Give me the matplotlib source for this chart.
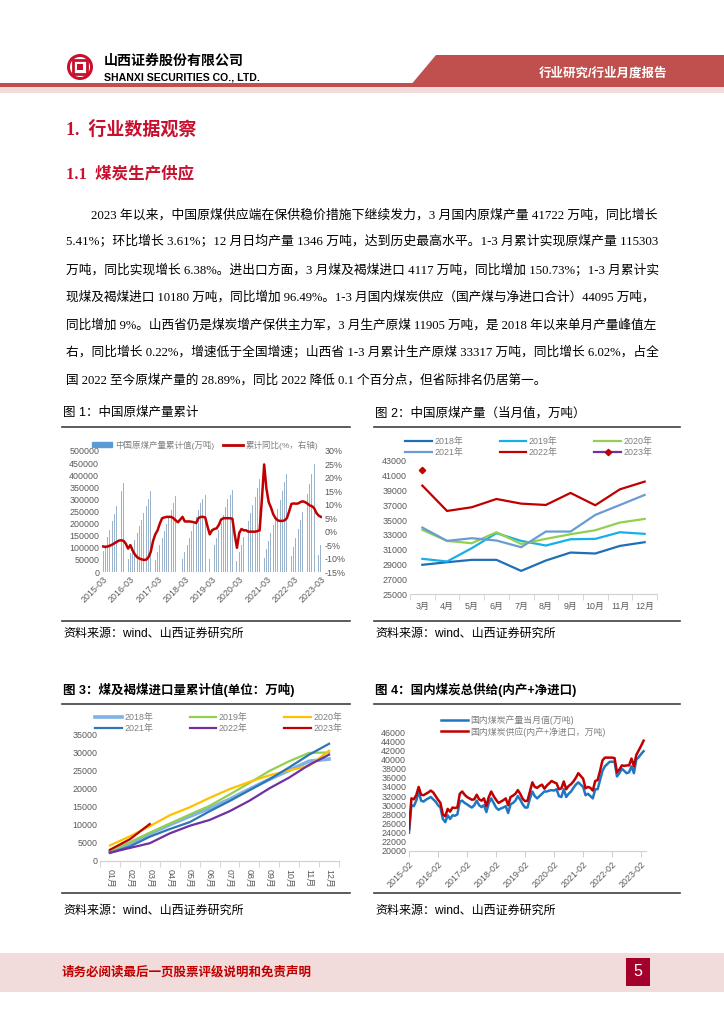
import numpy as np
import pandas as pd
import matplotlib
matplotlib.use('Agg')
from matplotlib import pyplot as plt
from matplotlib.patches import Patch, Polygon, Circle, Rectangle
from matplotlib.lines import Line2D

plt.rcParams['font.family'] = ['Liberation Sans', 'Noto Sans CJK SC']
SERIF = ['Liberation Serif', 'Noto Sans CJK SC']

# ---- chart 1 : cumulative raw coal output (万吨) and yoy (%) ----
nan = np.nan
cum_2015 = [85000, 113000, 145000, 175000, 210000, 240000, 272000, 303000, 335000, 368000]
cum_2016 = [nan, 52000, 78000, 104000, 133000, 163000, 190000, 216000, 245000, 273000, 303000, 334000]
cum_2017 = [nan, 50000, 82000, 110000, 140000, 168000, 197000, 226000, 255000, 284000, 312000, 341000]
cum_2018 = [nan, 52000, 84000, 112000, 141000, 170000, 199000, 228000, 257000, 286000, 300000, 318000]
cum_2019 = [nan, 55000, 82000, 110000, 141000, 172000, 203000, 236000, 268000, 302000, 320000, 338000]
cum_2020 = [nan, 45000, 83000, 112000, 145000, 181000, 212000, 244000, 276000, 311000, 346000, 384000]
cum_2021 = [nan, 58000, 94000, 128000, 162000, 195000, 229000, 262000, 298000, 335000, 370000, 407000]
cum_2022 = [nan, 65000, 103000, 140000, 178000, 215000, 250000, 288000, 323000, 362000, 405000, 445000]
cum_2023 = [nan, 70000, 113000]
cum_yoy = [-5.5, -5.7, -5.5, -5.2, -4.8, -4.3, -3.8, -3.3, -3.2, -3.4, -4.5, -6.3,
           -5.0, -7.0, -8.5, -9.5, -10.0, -10.3, -10.5, -10.4, -9.5, -7.5, -3.5, -1.0,
           0.5, 3.0, 5.0, 5.3, 5.5, 5.5, 5.5, 5.0, 4.2, 3.5, 4.5, 5.5,
           3.8, 3.8, 3.8, 3.7, 3.5, 3.2, 5.0, 5.5, 5.5, 5.3, 2.0, -1.0,
           0.5, 1.0, 1.2, 2.5, 4.5, 5.0, 5.0, 5.0, 5.0, 4.8, -1.0, -6.0,
           -0.5, 1.0, 0.5, 0.5, 0.0, 0.0, 0.0, 0.0, 0.2, 0.5, 12.0, 25.0,
           16.0, 11.0, 9.0, 6.5, 5.0, 4.2, 4.0, 4.0, 4.2, 5.0, 7.5, 10.3,
           10.5, 10.4, 10.5, 11.0, 11.3, 11.0, 10.5, 9.8, 9.5, 8.8, 7.0, 6.0,
           5.5]
months_1 = pd.period_range('2015-03', '2023-03', freq='M').strftime('%Y-%m')

# ---- chart 2 : monthly raw coal output by year (万吨) ----
m_labels = ['3月', '4月', '5月', '6月', '7月', '8月', '9月', '10月', '11月', '12月']
y2018 = [28950, 29300, 29620, 29620, 28130, 29530, 30610, 30480, 31510, 32010]
y2019 = [29760, 29400, 31200, 33230, 32190, 31560, 32410, 32460, 33360, 33140]
y2020 = [33680, 32190, 31870, 33360, 31780, 32460, 33090, 33630, 34670, 35160]
y2021 = [33990, 32190, 32550, 32240, 31330, 33450, 33450, 35700, 37050, 38410]
y2022 = [39670, 36240, 36740, 37860, 37230, 37050, 38680, 37010, 39170, 40210]
y2023 = [41722]

# ---- chart 3 : cumulative coal & lignite imports (万吨) ----
imp_labels = ['01月', '02月', '03月', '04月', '05月', '06月', '07月', '08月', '09月', '10月', '11月', '12月']
imp_2018 = [2600, 4800, 7500, 10000, 12300, 14500, 17000, 19800, 22500, 25000, 27500, 28100]
imp_2019 = [2800, 5200, 7800, 10300, 12800, 15200, 18300, 21500, 24800, 27500, 29800, 29900]
imp_2020 = [4300, 6800, 9600, 12600, 14800, 17400, 19800, 21800, 23600, 25000, 26200, 30400]
imp_2021 = [2200, 4000, 6700, 8800, 10700, 13700, 16500, 19500, 22500, 25800, 29300, 32300]
imp_2022 = [2300, 3600, 4900, 7600, 9700, 11300, 13700, 16600, 20000, 23000, 26500, 29300]
imp_2023 = [3100, 6000, 10200]

# ---- chart 4 : domestic output vs total supply (万吨) ----
months_4 = pd.period_range('2015-02', '2023-03', freq='M').strftime('%Y-%m')
output_m = [24000, 30000, 29800, 31000, 33000, 31000, 30800, 31200, 31500, 31800, 31300, 30800,
            30000, 29500, 27000, 26300, 27800, 27000, 27800, 27700, 28000, 30800, 31000, 30500,
            30200, 29800, 29500, 30000, 31000, 30000, 29600, 30000, 28500, 30500, 31500, 30500,
            29500, 29000, 29300, 29500, 29800, 28300, 30200, 30500, 31000, 32000, 31200, 30200,
            29500, 29500, 31500, 33000, 32000, 31500, 32000, 32500, 33000, 33000, 33200, 33300,
            33200, 33500, 32000, 31800, 33500, 31800, 32500, 33000, 33800, 34500, 35000, 34500,
            34000, 32200, 32500, 32000, 31500, 33500, 33500, 35500, 37500, 38500, 39000, 39500,
            39500, 39500, 36300, 37000, 38000, 37500, 37000, 37200, 38500, 37000, 40000, 40500,
            41200, 41800]
supply_m = [24800, 31500, 31300, 32200, 34000, 32300, 32200, 32500, 32800, 33200, 32800, 32000,
            31200, 30500, 28000, 27600, 29200, 28600, 29500, 29400, 29500, 32500, 33000, 32300,
            31800, 31500, 31200, 31300, 32300, 31300, 31000, 31500, 29800, 31800, 33000, 32000,
            31200, 30500, 30800, 31100, 31500, 30000, 31800, 32100, 32500, 33300, 32500, 31400,
            30900, 31000, 33000, 35000, 34000, 33800, 34200, 34500, 33600, 34300, 34800, 35300,
            35000, 34800, 33500, 33700, 35200, 33500, 34200, 34600, 35200, 36000, 37000, 36400,
            35800, 33700, 34000, 33800, 33200, 35300, 35500, 37500, 39800, 40400, 40400, 40400,
            40400, 40300, 37200, 37800, 38700, 38600, 38700, 38700, 40200, 38500, 41000, 42000,
            43000, 44100]

body_lines = [
    '2023 年以来，中国原煤供应端在保供稳价措施下继续发力，3 月国内原煤产量 41722 万吨，同比增长',
    '5.41%；环比增长 3.61%；12 月日均产量 1346 万吨，达到历史最高水平。1-3 月累计实现原煤产量 115303',
    '万吨，同比实现增长 6.38%。进出口方面，3 月煤及褐煤进口 4117 万吨，同比增加 150.73%；1-3 月累计实',
    '现煤及褐煤进口 10180 万吨，同比增加 96.49%。1-3 月国内煤炭供应（国产煤与净进口合计）44095 万吨，',
    '同比增加 9%。山西省仍是煤炭增产保供主力军，3 月生产原煤 11905 万吨，是 2018 年以来单月产量峰值左',
    '右，同比增长 0.22%，增速低于全国增速；山西省 1-3 月累计生产原煤 33317 万吨，同比增长 6.02%，占全',
    '国 2022 至今原煤产量的 28.89%，同比 2022 降低 0.1 个百分点，但省际排名仍居第一。',
]

W, H = 724, 1024
fig = plt.figure(figsize=(W / 100, H / 100), dpi=100)
page = fig.add_axes([0, 0, 1, 1])
page.set_xlim(0, W)
page.set_ylim(H, 0)
page.axis('off')


def rect(x0, y0, x1, y1):
    return [x0 / W, 1 - y1 / H, (x1 - x0) / W, (y1 - y0) / H]


def pt(px):
    return px * 0.72


# header
page.add_patch(Polygon([(436, 55), (W, 55), (W, 86), (410, 86)], closed=True, color='#c0504d', lw=0))
page.add_patch(Rectangle((0, 83), W, 4, color='#c0504d', lw=0))
page.add_patch(Rectangle((0, 87), W, 6, color='#f2dcdb', lw=0))
page.add_patch(Circle((80, 67), 13, color='#c8102e', lw=0))
page.add_patch(Circle((80, 67), 10, color='white', lw=0))
page.add_patch(Rectangle((73, 60), 14, 14, fill=False, ec='#c8102e', lw=2))
page.add_patch(Rectangle((77, 64), 6, 6, color='#c8102e', lw=0))
page.text(104, 61, '山西证券股份有限公司', fontsize=pt(14), fontweight='bold', va='center')
page.text(104, 78, 'SHANXI SECURITIES CO., LTD.', fontsize=pt(10.5), fontweight='bold', va='center')
page.text(667, 74, '行业研究/行业月度报告', fontsize=pt(12.5), fontweight='bold', color='white',
          ha='right', va='center')

# headings
page.text(66, 130, '1.  行业数据观察', fontsize=pt(18), color='#c8102e', fontweight='bold',
          family=SERIF, va='center')
page.text(66, 174, '1.1  煤炭生产供应', fontsize=pt(16.5), color='#c8102e', fontweight='bold',
          family=SERIF, va='center')

# paragraph, each full line sized to the justified right margin (x=658)
line_y = [215, 242, 270, 297, 325, 352, 380]
renderer = fig.canvas.get_renderer()
for i, (s, y) in enumerate(zip(body_lines, line_y)):
    x0 = 91 if i == 0 else 66
    t = page.text(x0, y, s, fontsize=pt(12.6), family=SERIF, va='center')
    if i < len(body_lines) - 1:
        w = t.get_window_extent(renderer).width
        t.set_fontsize(pt(12.6) * (658 - x0) / w)

# captions / frames
for x0, x1, cap, ytop, ybot, bold in [
        (62, 350, '图 1：中国原煤产量累计', 413, 621, False),
        (374, 680, '图 2：中国原煤产量（当月值，万吨）', 413, 621, False),
        (62, 350, '图 3：煤及褐煤进口量累计值(单位：万吨)', 690, 893, True),
        (374, 680, '图 4：国内煤炭总供给(内产+净进口)', 690, 893, True)]:
    page.text(x0 + 1, ytop, cap, fontsize=pt(12.5), va='center',
              fontweight='bold' if bold else 'normal')
    page.plot([x0, x1], [ytop + 14, ytop + 14], color='#404040', lw=1.2)
    page.plot([x0, x1], [ybot, ybot], color='#404040', lw=1.2)
    page.text(x0 + 1, ybot + 13 if ybot < 700 else ybot + 18, '资料来源：wind、山西证券研究所',
              fontsize=pt(12), va='center')

# footer
page.add_patch(Rectangle((0, 953), W, 39, color='#f2dcdb', lw=0))
page.text(62, 972, '请务必阅读最后一页股票评级说明和免责声明', fontsize=pt(12.5), color='#c00000',
          fontweight='bold', va='center')
page.add_patch(Rectangle((626, 958), 24, 28, color='#a3002b', lw=0))
page.text(638, 972, '5', fontsize=pt(16), color='white', ha='center', va='center')

TICK = '#595959'
LEG = '#7f7f7f'
FS = 6.4


def clean(ax):
    for s in ax.spines.values():
        s.set_visible(False)
    ax.tick_params(length=0, labelsize=FS, labelcolor=TICK, pad=2)


# chart 1
bars = np.array(cum_2015 + cum_2016 + cum_2017 + cum_2018 + cum_2019 + cum_2020 +
                cum_2021 + cum_2022 + cum_2023)
ax1 = fig.add_axes(rect(102, 451, 322, 572))
x1 = np.arange(len(months_1))
ax1.bar(x1, bars, width=0.42, color='#9cb3cd')
ax1.set_xlim(-0.5, len(months_1) - 0.5)
ax1.set_ylim(0, 500000)
ax1.set_yticks(np.arange(0, 500001, 50000))
ax1.set_xticks(x1[::12])
ax1.set_xticklabels(months_1[::12], rotation=45, ha='right', rotation_mode='anchor')
clean(ax1)
ax1r = ax1.twinx()
ax1r.plot(x1, cum_yoy, color='#c00000', lw=1.8)
ax1r.set_ylim(-15, 30)
ax1r.set_yticks(np.arange(-15, 31, 5))
ax1r.set_yticklabels([f'{v}%' for v in range(-15, 31, 5)])
clean(ax1r)
fig.legend([Patch(color='#5b9bd5'), Line2D([], [], color='#c00000', lw=2)],
           ['中国原煤产量累计值(万吨)', '累计同比(%，右轴)'],
           loc='center left', bbox_to_anchor=(92 / W, 1 - 445 / H), ncol=2, frameon=False,
           fontsize=6.1, labelcolor=LEG, handlelength=2.4, handleheight=0.45,
           handletextpad=0.3, columnspacing=1.0, borderpad=0, borderaxespad=0)

# chart 2
ax2 = fig.add_axes(rect(410, 461, 657, 594))
x2 = np.arange(len(m_labels))
c2 = {'2018年': ('#1f6fb8', y2018), '2019年': ('#16b0e8', y2019), '2020年': ('#92d050', y2020),
      '2021年': ('#6a9bd3', y2021), '2022年': ('#c00000', y2022)}
h2 = {}
for k, (c, v) in c2.items():
    h2[k], = ax2.plot(x2, v, color=c, lw=1.6)
h2['2023年'], = ax2.plot(x2[:len(y2023)], y2023, color='#7030a0', lw=1.6, marker='D',
                        ms=3.2, mfc='#c00000', mec='#c00000')
ax2.set_xlim(-0.5, len(m_labels) - 0.5)
ax2.set_ylim(25000, 43000)
ax2.set_yticks(np.arange(25000, 43001, 2000))
ax2.set_xticks(x2)
ax2.set_xticklabels(m_labels)
clean(ax2)
ax2.spines['bottom'].set_visible(True)
ax2.spines['bottom'].set_color('#d0d0d0')
ax2.set_xticks(np.arange(-0.5, len(m_labels)), minor=True)
ax2.tick_params(axis='x', which='minor', length=4, color='#d0d0d0')
ax2.tick_params(axis='x', pad=6)
order = ['2018年', '2021年', '2019年', '2022年', '2020年', '2023年']
fig.legend([h2[k] for k in order], order, loc='center left',
           bbox_to_anchor=(405 / W, 1 - 447 / H), ncol=3, frameon=False, fontsize=FS,
           labelcolor=LEG, handlelength=3.0, handletextpad=0.3, columnspacing=4.1,
           labelspacing=0.15, borderpad=0, borderaxespad=0)

# chart 3
ax3 = fig.add_axes(rect(100, 734, 339, 861))
x3 = np.arange(len(imp_labels))
c3 = [('2018年', '#7fb2e5', imp_2018, 2.6), ('2019年', '#92d050', imp_2019, 1.6),
      ('2020年', '#ffc000', imp_2020, 1.6), ('2021年', '#2e75b6', imp_2021, 1.6),
      ('2022年', '#7030a0', imp_2022, 1.6), ('2023年', '#c00000', imp_2023, 1.6)]
h3 = {}
for k, c, v, lw in c3:
    h3[k], = ax3.plot(x3[:len(v)], v, color=c, lw=lw)
ax3.set_xlim(-0.5, len(imp_labels) - 0.5)
ax3.set_ylim(0, 35000)
ax3.set_yticks(np.arange(0, 35001, 5000))
ax3.set_xticks(x3)
ax3.set_xticklabels(imp_labels, rotation=-90, va='top', ha='center')
clean(ax3)
ax3.spines['bottom'].set_visible(True)
ax3.spines['bottom'].set_color('#d0d0d0')
ax3.set_xticks(np.arange(-0.5, len(imp_labels)), minor=True)
ax3.tick_params(axis='x', which='minor', length=4, color='#d0d0d0')
ax3.tick_params(axis='x', pad=6)
fig.legend([h3[k] for k in order], order, loc='center left',
           bbox_to_anchor=(95 / W, 1 - 723 / H), ncol=3, frameon=False, fontsize=FS,
           labelcolor=LEG, handlelength=3.0, handletextpad=0.3, columnspacing=4.1,
           labelspacing=0.15, borderpad=0, borderaxespad=0)

# chart 4
ax4 = fig.add_axes(rect(409, 732, 646, 851))
x4 = np.arange(len(months_4))
l4a, = ax4.plot(x4, output_m, color='#1f77c4', lw=1.8)
l4b, = ax4.plot(x4, supply_m, color='#c00000', lw=1.8)
ax4.set_xlim(0, len(months_4))
ax4.set_ylim(20000, 46000)
ax4.set_yticks(np.arange(20000, 46001, 2000))
ax4.set_xticks(x4[::12])
ax4.set_xticklabels(months_4[::12], rotation=45, ha='right', rotation_mode='anchor')
clean(ax4)
ax4.spines['bottom'].set_visible(True)
ax4.spines['bottom'].set_color('#d0d0d0')
ax4.tick_params(axis='x', length=4, color='#d0d0d0')
fig.legend([l4a, l4b], ['国内煤炭产量当月值(万吨)', '国内煤炭供应(内产+净进口，万吨)'],
           loc='center left', bbox_to_anchor=(441 / W, 1 - 726 / H), ncol=1, frameon=False,
           fontsize=FS, labelcolor=LEG, handlelength=3.0, handletextpad=0.3,
           labelspacing=0.15, borderpad=0, borderaxespad=0)

fig.savefig('out.png', dpi=100)
